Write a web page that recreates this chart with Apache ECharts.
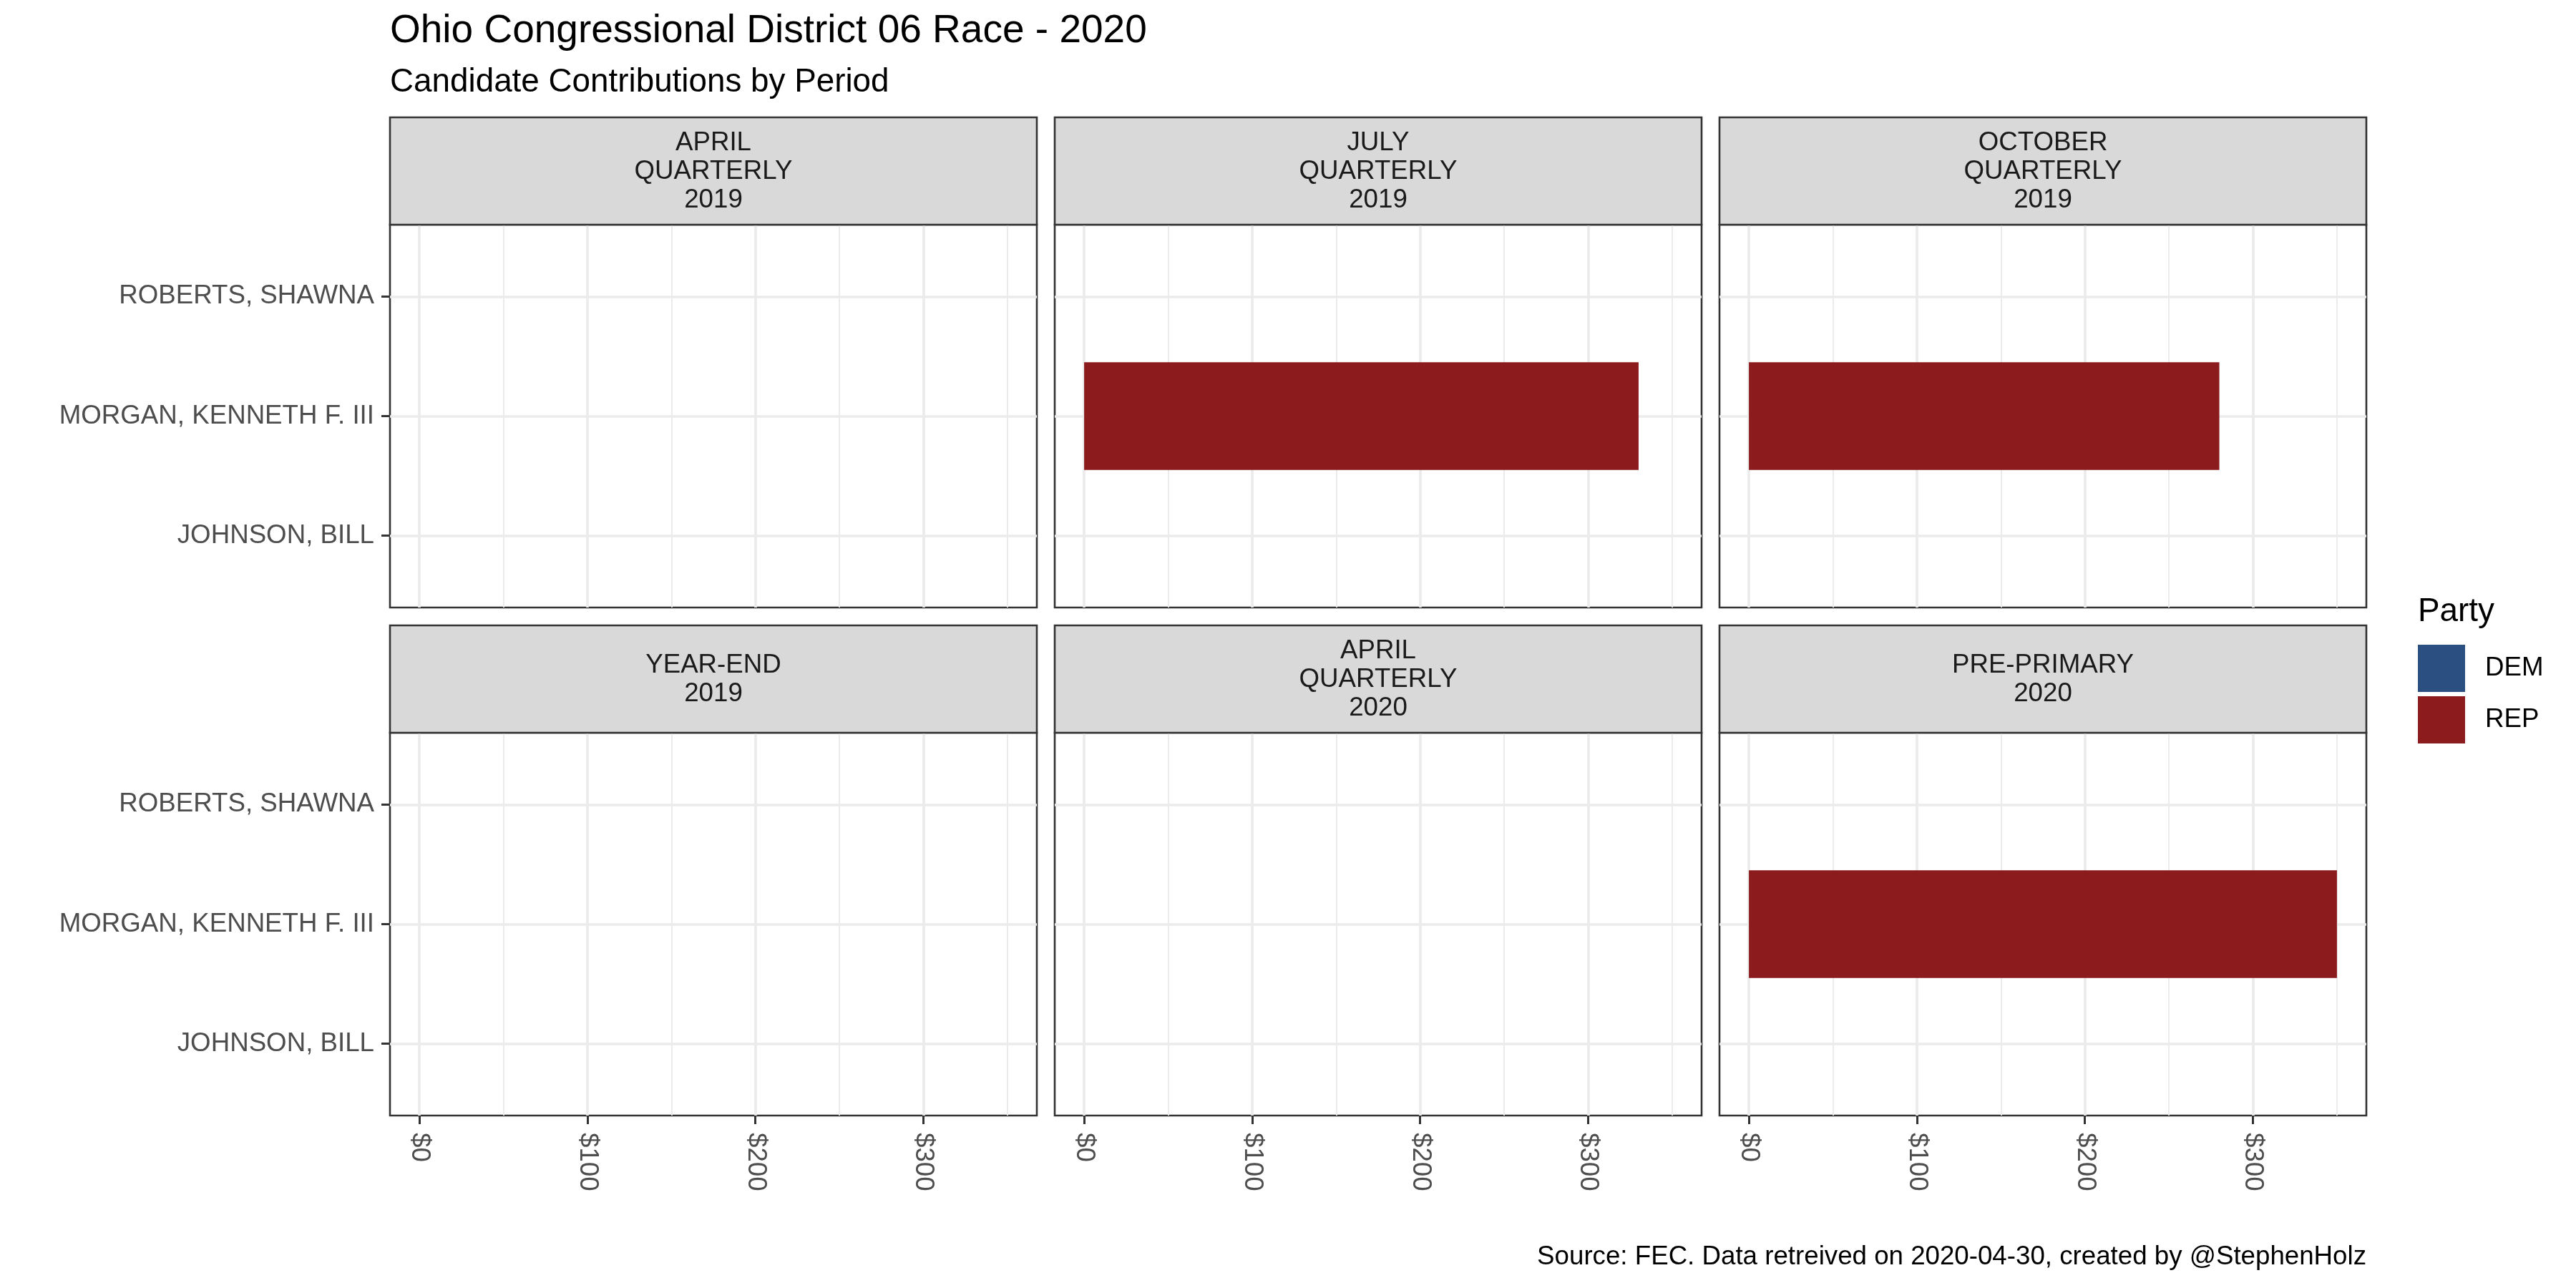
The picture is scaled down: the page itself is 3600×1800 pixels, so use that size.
<!DOCTYPE html>
<html>
<head>
<meta charset="utf-8">
<script src="https://cdn.jsdelivr.net/npm/echarts@6/dist/echarts.min.js"></script>
<style>
html,body{margin:0;padding:0;background:#fff;}
#chart{width:3600px;height:1800px;}
</style>
</head>
<body>
<div id="chart"></div>
<script>
// ---- data ----
const periods = ['APRIL\nQUARTERLY\n2019', 'JULY\nQUARTERLY\n2019', 'OCTOBER\nQUARTERLY\n2019',
                 'YEAR-END\n2019', 'APRIL\nQUARTERLY\n2020', 'PRE-PRIMARY\n2020'];
const candidates = ['JOHNSON, BILL', 'MORGAN, KENNETH F. III', 'ROBERTS, SHAWNA']; // bottom -> top
const repCandidate = 'MORGAN, KENNETH F. III';
const repValues = [null, 330, 280, null, null, 350];   // per period
const demValues = [null, null, null, null, null, null];
const xTicks = [0, 100, 200, 300];
const xMinorTicks = [50, 150, 250, 350];
const parties = ['DEM', 'REP'];
const partyColors = {DEM: '#2C4F81', REP: '#8B1B1D'};

// ---- layout ----
const FONT = 'Liberation Sans, Arial, Helvetica, sans-serif';
const colLeft = [545, 1474, 2403];
const colW = 904;
const stripTop = [164, 874];
const stripH = 150;
const panelTop = [314, 1024];
const panelH = 535;
const xMin = -17.5, xMax = 367.5;

const grids = [], xAxes = [], yAxes = [], series = [], graphics = [];

periods.forEach((p, i) => {
  const r = Math.floor(i / 3), c = i % 3;
  const isBottom = r === 1, isLeft = c === 0;
  grids.push({
    left: colLeft[c], top: panelTop[r], width: colW, height: panelH,
    show: true, backgroundColor: '#fff', borderColor: '#333333', borderWidth: 2.6,
    containLabel: false, outerBoundsMode: 'none'
  });
  // major x axis
  xAxes.push({
    type: 'value', gridIndex: i, position: 'bottom', min: xMin, max: xMax,
    axisLine: {show: false, onZero: false},
    axisTick: {show: isBottom, customValues: xTicks, length: 12, lineStyle: {color: '#333333', width: 3}},
    axisLabel: {show: isBottom, customValues: xTicks, rotate: -90, margin: 24,
      formatter: v => '$' + v, color: '#4D4D4D', fontSize: 36.7, fontFamily: FONT},
    splitLine: {show: true, lineStyle: {color: '#EBEBEB', width: 3.7}}
  });
  // minor x gridlines
  xAxes.push({
    type: 'value', gridIndex: i, position: 'top', min: xMin, max: xMax,
    axisLine: {show: false, onZero: false},
    axisTick: {show: false, customValues: xMinorTicks},
    axisLabel: {show: false, customValues: xMinorTicks},
    splitLine: {show: true, lineStyle: {color: '#EBEBEB', width: 1.9}}
  });
  yAxes.push({
    type: 'value', gridIndex: i, position: 'left', min: 0.4, max: 3.6,
    axisLine: {show: false, onZero: false},
    axisTick: {show: isLeft, customValues: [1, 2, 3], length: 12, lineStyle: {color: '#333333', width: 3}},
    axisLabel: {show: isLeft, customValues: [1, 2, 3], margin: 22,
      formatter: v => candidates[Math.round(v) - 1] || '',
      color: '#4D4D4D', fontSize: 36.7, fontFamily: FONT},
    splitLine: {show: true, lineStyle: {color: '#EBEBEB', width: 3.7}}
  });
  const renderBar = (params, api) => {
    const x = api.value(0), y = api.value(1);
    const p0 = api.coord([0, y]);
    const p1 = api.coord([x, y]);
    const h = api.size([0, 0.9])[1];
    return {type: 'rect', shape: {x: p0[0], y: p0[1] - h / 2, width: p1[0] - p0[0], height: h},
            style: {fill: api.visual('color')}};
  };
  const repIdx = candidates.indexOf(repCandidate) + 1;
  series.push({
    type: 'custom', name: 'REP', xAxisIndex: 2 * i, yAxisIndex: i,
    itemStyle: {color: partyColors.REP},
    encode: {x: 0, y: 1},
    data: repValues[i] == null ? [] : [[repValues[i], repIdx]],
    renderItem: renderBar, z: 5
  });
  series.push({
    type: 'custom', name: 'DEM', xAxisIndex: 2 * i, yAxisIndex: i,
    itemStyle: {color: partyColors.DEM},
    encode: {x: 0, y: 1},
    data: demValues[i] == null ? [] : [[demValues[i], 1]],
    renderItem: renderBar, z: 5
  });
  // strip
  graphics.push({
    type: 'rect', shape: {x: colLeft[c], y: stripTop[r], width: colW, height: stripH},
    style: {fill: '#D9D9D9', stroke: '#333333', lineWidth: 2.6}, z: 10
  });
  graphics.push({
    type: 'text', x: colLeft[c] + colW / 2, y: stripTop[r] + stripH / 2 + 1, z: 11,
    style: {text: p, fill: '#1A1A1A', font: '36.7px ' + FONT, lineHeight: 40,
            textAlign: 'center', textVerticalAlign: 'middle', align: 'center', verticalAlign: 'middle'}
  });
});

graphics.push({
  type: 'text', x: 545, y: 44,
  style: {text: 'Ohio Congressional District 06 Race - 2020', fill: '#000', font: '55px ' + FONT,
          textAlign: 'left', textVerticalAlign: 'middle', align: 'left', verticalAlign: 'middle'}
});
graphics.push({
  type: 'text', x: 545, y: 115,
  style: {text: 'Candidate Contributions by Period', fill: '#000', font: '45.8px ' + FONT,
          textAlign: 'left', textVerticalAlign: 'middle', align: 'left', verticalAlign: 'middle'}
});
graphics.push({
  type: 'text', x: 3307, y: 1757,
  style: {text: 'Source: FEC. Data retreived on 2020-04-30, created by @StephenHolz', fill: '#000',
          font: '36.7px ' + FONT,
          textAlign: 'right', textVerticalAlign: 'middle', align: 'right', verticalAlign: 'middle'}
});
graphics.push({
  type: 'text', x: 3379, y: 855,
  style: {text: 'Party', fill: '#000', font: '45.8px ' + FONT,
          textAlign: 'left', textVerticalAlign: 'middle', align: 'left', verticalAlign: 'middle'}
});

const chart = echarts.init(document.getElementById('chart'), null, {renderer: 'canvas'});
chart.setOption({
  animation: false,
  backgroundColor: '#fff',
  grid: grids,
  xAxis: xAxes,
  yAxis: yAxes,
  legend: {
    data: parties, orient: 'vertical', left: 3379, top: 901,
    itemWidth: 66, itemHeight: 66, itemGap: 6, icon: 'rect', selectedMode: false,
    padding: 0,
    textStyle: {color: '#000', fontSize: 36.7, fontFamily: FONT, padding: [0, 0, 0, 23]}
  },
  series: series,
  graphic: graphics
});
</script>
</body>
</html>
